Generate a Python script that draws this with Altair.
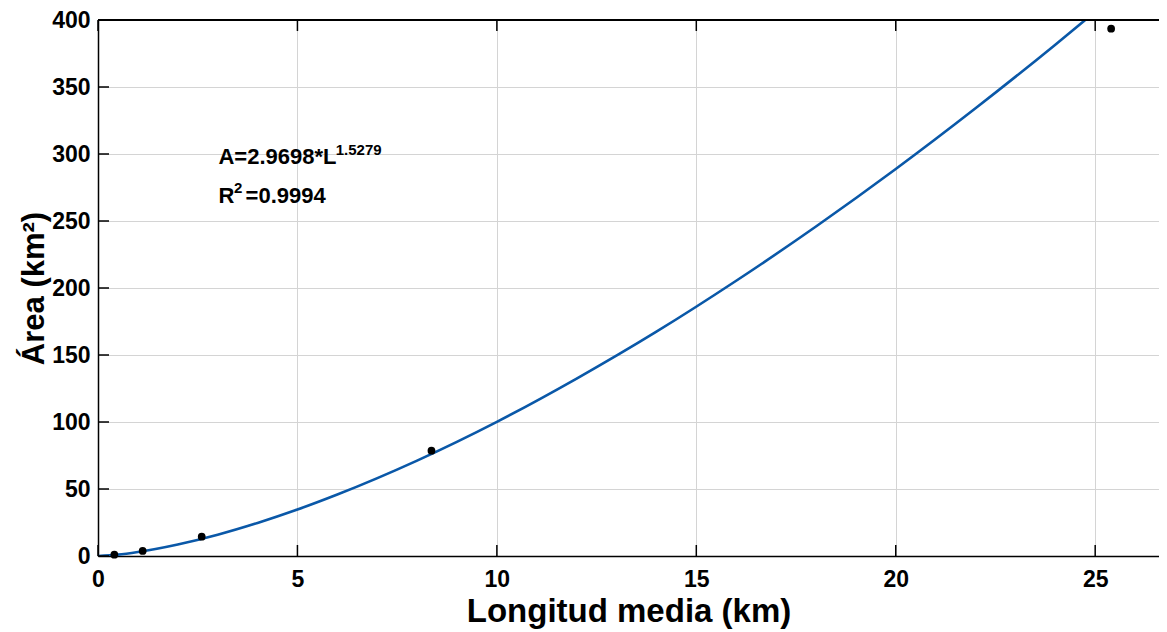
import altair as alt
import pandas as pd

# Observed points
obs_L = [0.41, 1.12, 2.60, 8.36, 25.40]
obs_A = [1.0, 3.8, 14.4, 78.6, 393.5]

# Fitted curve
fit_L = [0, 0.5, 1, 2, 3, 4, 5, 6, 8, 10, 12, 14, 16, 18, 20, 22, 24, 24.75]
fit_A = [0, 1.0, 3.0, 8.6, 15.9, 24.7, 34.7, 45.9, 71.2, 100.1, 132.4, 167.4, 205.4, 245.9, 288.8, 334.1, 381.6, 400.0]

x_ticks = [0, 5, 10, 15, 20, 25]
y_ticks = [0, 50, 100, 150, 200, 250, 300, 350, 400]

ann_text = ["A=2.9698*L", "1.5279", "R", "2", "=0.9994"]
ann_x = [3.02, 5.96, 3.02, 3.41, 3.70]
ann_y = [292.5, 299.5, 263.4, 271.0, 263.4]
ann_fs = [22, 15, 22, 15, 22]

W, H = 1061, 536
FONT = "Liberation Sans"

xs = alt.Scale(domain=[0, 26.6], nice=False, zero=False)
ys = alt.Scale(domain=[0, 400], nice=False, zero=False)

obs = pd.DataFrame({"L": obs_L, "A": obs_A})
fit = pd.DataFrame({"L": fit_L, "A": fit_A})
xt = pd.DataFrame({"t": x_ticks})
yt = pd.DataFrame({"t": y_ticks})
ann = pd.DataFrame({"txt": ann_text, "x": ann_x, "y": ann_y, "fs": ann_fs})

xaxis = alt.Axis(values=x_ticks, grid=True, tickSize=0, labelPadding=12, labelFlush=False,
                 labelFontSize=23, labelFontWeight="bold", labelFont=FONT, labelColor="black",
                 title="Longitud media (km)", titleFontSize=33, titleFontWeight="bold",
                 titleFont=FONT, titleColor="black", titleY=65, titleBaseline="alphabetic",
                 domainColor="black", domainWidth=1.5, gridColor="#d4d4d4", gridWidth=1)
yaxis = alt.Axis(values=y_ticks, grid=True, tickSize=0, labelPadding=8, labelFlush=False,
                 labelFontSize=23, labelFontWeight="bold", labelFont=FONT, labelColor="black",
                 title="Área (km²)", titleFontSize=31, titleFontWeight="bold",
                 titleFont=FONT, titleColor="black", titleAngle=270, titleX=-55, titleY=H / 2,
                 titleBaseline="alphabetic", titleAlign="center",
                 domainColor="black", domainWidth=1.5, gridColor="#d4d4d4", gridWidth=1)

base_curve = alt.Chart(fit).mark_line(color="#0a58a8", strokeWidth=2.6, interpolate="monotone", clip=True).encode(
    x=alt.X("L:Q", scale=xs, axis=xaxis),
    y=alt.Y("A:Q", scale=ys, axis=yaxis),
)

pts = alt.Chart(obs).mark_point(filled=True, color="black", size=60, opacity=1).encode(
    x=alt.X("L:Q", scale=xs), y=alt.Y("A:Q", scale=ys)
)

tick_style = dict(color="black", strokeWidth=1.5)
bt = alt.Chart(xt).mark_rule(**tick_style).encode(x=alt.X("t:Q", scale=xs), y=alt.value(H), y2=alt.value(H - 11))
tt = alt.Chart(xt).mark_rule(**tick_style).encode(x=alt.X("t:Q", scale=xs), y=alt.value(0), y2=alt.value(11))
lt = alt.Chart(yt).mark_rule(**tick_style).encode(y=alt.Y("t:Q", scale=ys), x=alt.value(0), x2=alt.value(11))
top_line = alt.Chart(xt).mark_rule(color="black", strokeWidth=1.5).encode(
    x=alt.value(0), x2=alt.value(W), y=alt.value(0)
)

txt = alt.Chart(ann).mark_text(align="left", baseline="alphabetic", font=FONT, fontWeight="bold", color="black").encode(
    x=alt.X("x:Q", scale=xs), y=alt.Y("y:Q", scale=ys), text="txt:N", size=alt.Size("fs:Q", scale=None)
)

chart = alt.layer(base_curve, bt, tt, lt, top_line, pts, txt).properties(
    width=W, height=H,
    autosize=alt.AutoSizeParams(type="none"),
    padding={"left": 90, "top": 12, "right": 0, "bottom": 74},
    background="white",
).configure_view(stroke=None)

chart.save("out.html", embed_options={"renderer": "svg", "actions": False})
